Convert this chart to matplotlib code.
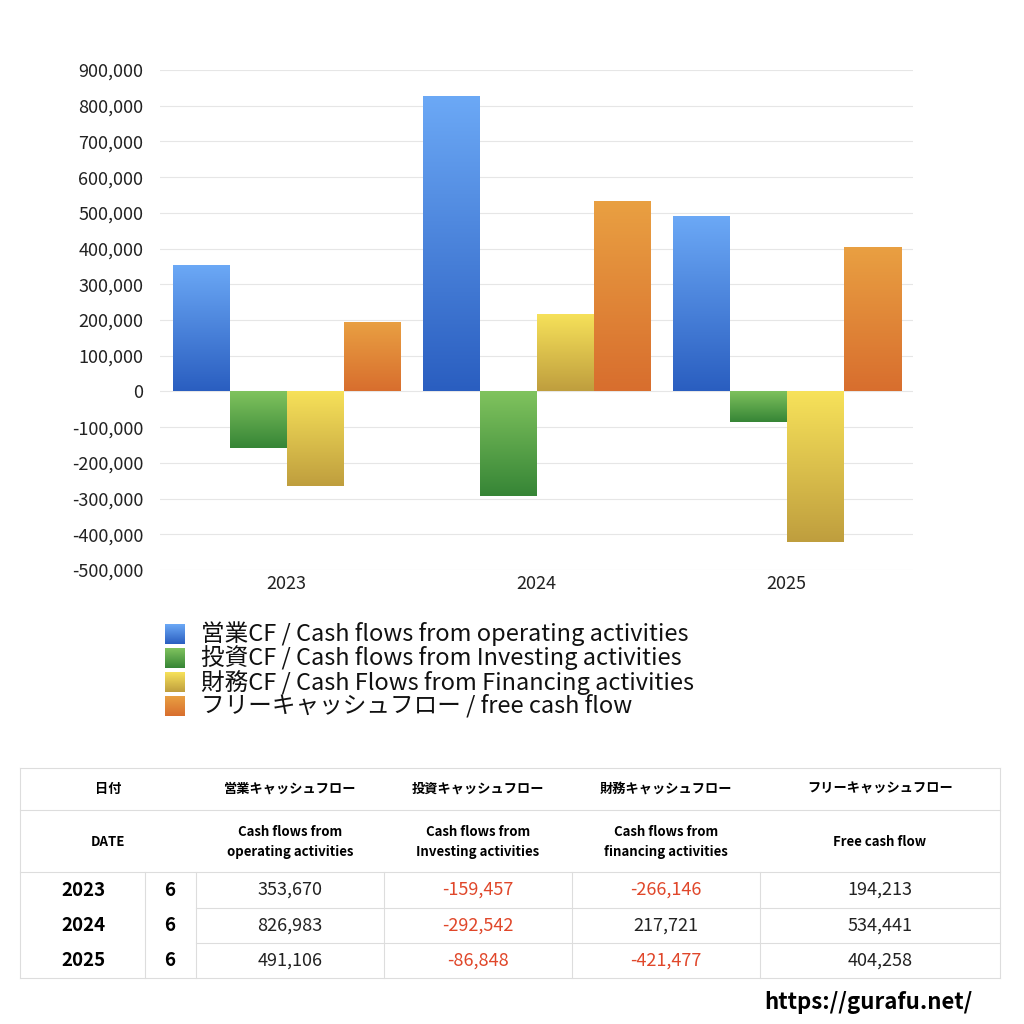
import matplotlib
matplotlib.use("Agg")
import matplotlib.pyplot as plt
import numpy as np
from matplotlib.colors import LinearSegmentedColormap
from matplotlib.patches import Rectangle
from matplotlib.lines import Line2D

plt.rcParams['font.family'] = ['Noto Sans CJK JP', 'DejaVu Sans']

years = ["2023", "2024", "2025"]
months = ["6", "6", "6"]
operating = [353670, 826983, 491106]
investing = [-159457, -292542, -86848]
financing = [-266146, 217721, -421477]
free_cf = [194213, 534441, 404258]
series = [operating, investing, financing, free_cf]
legend_labels = ["営業CF / Cash flows from operating activities",
                 "投資CF / Cash flows from Investing activities",
                 "財務CF / Cash Flows from Financing activities",
                 "フリーキャッシュフロー / free cash flow"]
grads = [("#6ca9f6", "#2a5ec0"), ("#80c35e", "#368536"),
         ("#f7e25a", "#bf9e3e"), ("#e9a042", "#d86e2e")]
head1 = ["営業キャッシュフロー", "投資キャッシュフロー", "財務キャッシュフロー", "フリーキャッシュフロー"]
head2 = ["Cash flows from\noperating activities", "Cash flows from\nInvesting activities",
         "Cash flows from\nfinancing activities", "Free cash flow"]

W = 1024
fig = plt.figure(figsize=(10.24, 10.24), dpi=100)
ax = fig.add_axes([160/W, 1-570/W, 753/W, 500/W])
ax.set_ylim(-500000, 900000)
ax.set_xlim(-0.506, 2.506)
ax.set_yticks(np.arange(-500000, 900001, 100000))
ax.yaxis.set_major_formatter(matplotlib.ticker.FuncFormatter(lambda v, p: f"{int(v):,}"))
ax.set_xticks(range(3))
ax.set_xticklabels(years)
ax.tick_params(length=0, labelsize=13, colors="#222222")
ax.tick_params(axis='y', pad=12)
for s in ax.spines.values():
    s.set_visible(False)
ax.grid(axis='y', color="#e6e6e6", lw=0.8)
ax.set_axisbelow(True)

bw = 0.228
x = np.arange(3)
grad = np.linspace(0, 1, 256).reshape(-1, 1)
for i, (vals, (ctop, cbot)) in enumerate(zip(series, grads)):
    cmap = LinearSegmentedColormap.from_list("g%d" % i, [cbot, ctop])
    bars = ax.bar(x + (i - 1.5) * bw, vals, bw, color="none", zorder=2)
    for b in bars:
        x0, y0 = b.get_x(), b.get_y()
        w, h = b.get_width(), b.get_height()
        yl, yh = min(y0, y0 + h), max(y0, y0 + h)
        im = ax.imshow(grad, cmap=cmap, origin="lower", aspect="auto",
                       extent=[x0, x0 + w, yl, yh], zorder=2)
        im.set_clip_path(b)
ax.set_xlim(-0.506, 2.506)
ax.set_ylim(-500000, 900000)

# legend
for i, lab in enumerate(legend_labels):
    yy = 634 + 24 * i
    ctop, cbot = grads[i]
    lax = fig.add_axes([165/W, 1-(yy+10)/W, 20/W, 20/W])
    cmap = LinearSegmentedColormap.from_list("l%d" % i, [cbot, ctop])
    lax.imshow(grad, cmap=cmap, origin="lower", aspect="auto")
    lax.axis("off")
    fig.text(201/W, 1-yy/W, lab, fontsize=17, va="center", ha="left", color="#111111")

# table
lc = "#dddddd"
def hline(y, x0=20, x1=1000):
    fig.add_artist(Line2D([x0/W, x1/W], [1-y/W, 1-y/W], color=lc, lw=0.8))
def vline(x, y0, y1):
    fig.add_artist(Line2D([x/W, x/W], [1-y0/W, 1-y1/W], color=lc, lw=0.8))
for y in [768, 810, 872, 978]:
    hline(y)
for y in [908, 943]:
    hline(y, 196, 1000)
vline(20, 768, 978); vline(1000, 768, 978)
for xv in [145, 196, 384, 572, 760]:
    vline(xv, 872, 978)
cols = [290, 478, 666, 880]
fig.text(108/W, 1-789/W, "日付", fontsize=9.5, fontweight="bold", ha="center", va="center")
fig.text(108/W, 1-842/W, "DATE", fontsize=9.5, fontweight="bold", ha="center", va="center")
for c, h1, h2 in zip(cols, head1, head2):
    fig.text(c/W, 1-789/W, h1, fontsize=9.5, fontweight="bold", ha="center", va="center")
    fig.text(c/W, 1-842/W, h2, fontsize=9.5, fontweight="bold", ha="center", va="center",
             linespacing=1.5)
for r in range(3):
    yy = 890 + 35.5 * r
    fig.text(83/W, 1-yy/W, years[r], fontsize=13.5, fontweight="bold", ha="center", va="center")
    fig.text(170/W, 1-yy/W, months[r], fontsize=13.5, fontweight="bold", ha="center", va="center")
    for c, s in zip(cols, series):
        v = s[r]
        fig.text(c/W, 1-yy/W, f"{v:,}", fontsize=13, ha="center", va="center",
                 color="#e0472a" if v < 0 else "#222222")

fig.text(972/W, 1-1003/W, "https://gurafu.net/", fontsize=16, fontweight="bold",
         ha="right", va="center")
fig.savefig("out.png", dpi=100, facecolor="white")
